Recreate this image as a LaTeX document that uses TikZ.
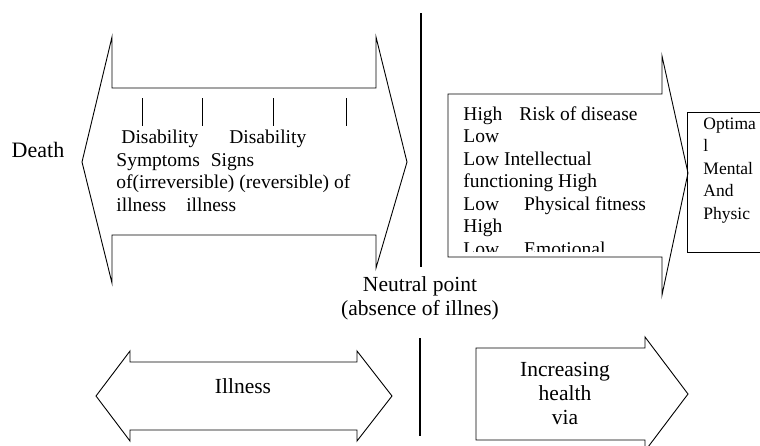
\documentclass[tikz,border=0pt]{standalone}
\usepackage{fontspec}
\setmainfont{Liberation Serif}
\begin{document}
\begin{tikzpicture}[x=1pt,y=-1pt,line width=0.9pt,
  txt/.style={inner sep=0pt,anchor=north west,align=left,font=\fontsize{19.5}{22.5}\selectfont},
  small/.style={inner sep=0pt,anchor=north west,align=left,font=\fontsize{17.5}{22.5}\selectfont},
  big/.style={inner sep=0pt,align=center,font=\fontsize{21.5}{24}\selectfont}]
\pgfmathsetmacro{\ax}{30}
\useasboundingbox (0,0) rectangle (760,445);
\clip (0,0) rectangle (760,445);
%illness-wellness double arrow
\draw(82,162)--++(\ax,-125)--++(0,51)--++(264,0)--++(0,-51)--++(31,125)--++(-31,106)--++(0,-33)--++(-264,0)--++(0,48)--cycle;
%ticks on the scale
\foreach \tx in {142,202,273,346}
  \draw[line width=0.7pt](\tx,98)--++(0,28);
\node[font=\fontsize{22}{26}\selectfont] (death) at (38,150) {Death};
\node[txt] (stages) at (116,130) {\hspace{5pt}Disability\hspace{31pt}Disability\\
  Symptoms\hspace{11pt}Signs\\
  of(irreversible) (reversible) of\\
  illness\hspace{20pt}illness};
%neutral point
\draw[line width=2.8pt](421,13)--++(0,254);
\node[big] (neutral) at (420,298) {Neutral point\\(absence of illnes)};
\draw[line width=2.4pt](420,338)--++(0,98);
%wellness arrow
\draw(448,94)--++(214,0)--++(0,-38)--++(26,117)--++(-26,122)--++(0,-38)--++(-214,0)--cycle;
\begin{scope}
\clip (449,95) rectangle (661,251);
\node[txt] (levels) at (463,106) {High\hspace{17pt}Risk of disease\\
  Low\\
  Low Intellectual\\
  functioning High\\
  Low\hspace{25pt}Physical fitness\\
  High\\
  Low\hspace{25pt}Emotional};
\end{scope}
\draw(687,112) rectangle (780,252);
\node[small] (optimal) at (703,117) {Optima\\l\\Mental\\And\\Physic};
%bottom arrows
\draw(96,396)--++(34,-45)--++(0,11)--++(227,0)--++(0,-11)--++(35,45)--++(-35,45)--++(0,-11)--++(-227,0)--++(0,11)--cycle;
\node[big] (illness) at (243,386) {Illness};
\draw(476,348)--++(169,0)--++(0,-11)--++(43,57)--++(-43,57)--++(0,-11)--++(-169,0)--cycle;
\node[big] (health) at (565,393) {Increasing\\health\\via};
\end{tikzpicture}
\end{document}
